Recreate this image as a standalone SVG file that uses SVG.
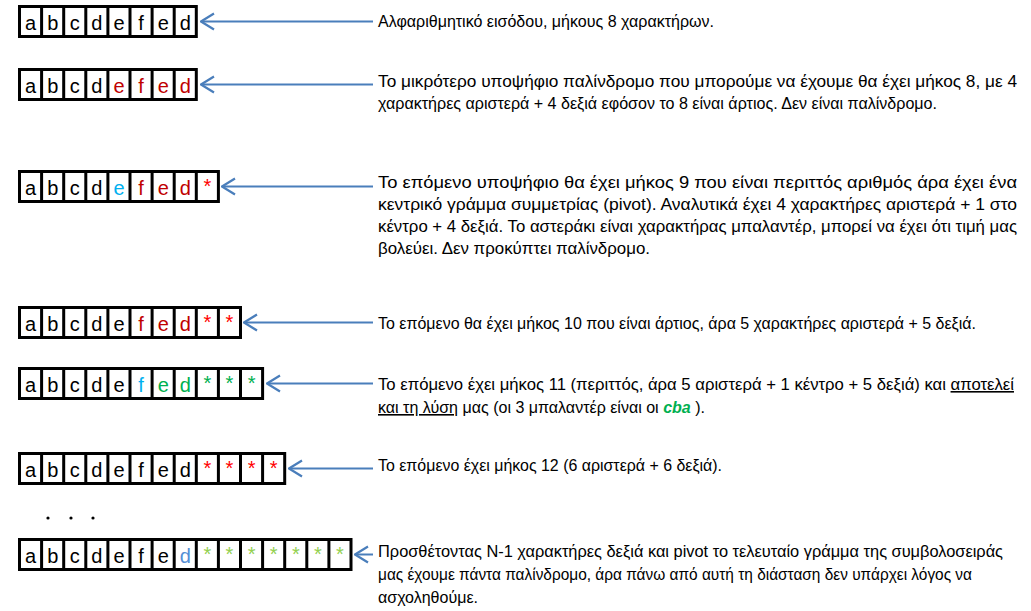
<svg xmlns="http://www.w3.org/2000/svg" width="1031" height="611" viewBox="0 0 1031 611">
<defs>
<marker id="ah" markerUnits="userSpaceOnUse" markerWidth="20" markerHeight="20" refX="19" refY="10" orient="auto" viewBox="0 0 20 20">
<path d="M6,2 L19,10 L6,18" fill="none" stroke="#4A7EBB" stroke-width="2.2"/>
</marker>
</defs>
<style>
.box{fill:#fff;stroke:#000;stroke-width:3}
.sep{stroke:#000;stroke-width:3;fill:none}
.ch{font-family:"Liberation Sans",Arial,sans-serif;font-size:20px;text-anchor:middle;fill:#000}
.k{fill:#000}.r{fill:#C00000}.rr{fill:#FF0000}.b{fill:#00B0F0}.g{fill:#00B050}.lg{fill:#92D050}.cb{fill:#558ED5}
.desc{font-family:"Liberation Sans",Arial,sans-serif;font-size:16px;fill:#000}
.u{text-decoration:underline}
.conn{stroke:#4A7EBB;stroke-width:2;fill:none}
</style>
<rect width="1031" height="611" fill="#fff"/>

<g id="row1">
<rect class="box" x="19.5" y="6.5" width="176.8" height="30"/>
<path class="sep" d="M41.6,5V38M63.7,5V38M85.8,5V38M107.9,5V38M130,5V38M152.1,5V38M174.2,5V38"/>
<g class="ch">
<text x="30.6" y="29.5">a</text><text x="52.7" y="29.5">b</text><text x="74.8" y="29.5">c</text><text x="96.9" y="29.5">d</text><text x="119" y="29.5">e</text><text x="141.1" y="29.5">f</text><text x="163.2" y="29.5">e</text><text x="185.3" y="29.5">d</text>
</g>
</g>

<g id="row2">
<rect class="box" x="19.5" y="69.5" width="176.8" height="30"/>
<path class="sep" d="M41.6,68V101M63.7,68V101M85.8,68V101M107.9,68V101M130,68V101M152.1,68V101M174.2,68V101"/>
<g class="ch">
<text x="30.6" y="92.5">a</text><text x="52.7" y="92.5">b</text><text x="74.8" y="92.5">c</text><text x="96.9" y="92.5">d</text><text class="r" x="119" y="92.5">e</text><text class="r" x="141.1" y="92.5">f</text><text class="r" x="163.2" y="92.5">e</text><text class="r" x="185.3" y="92.5">d</text>
</g>
</g>

<g id="row3">
<rect class="box" x="19.5" y="171.5" width="198.9" height="30"/>
<path class="sep" d="M41.6,170V203M63.7,170V203M85.8,170V203M107.9,170V203M130,170V203M152.1,170V203M174.2,170V203M196.3,170V203"/>
<g class="ch">
<text x="30.6" y="194.5">a</text><text x="52.7" y="194.5">b</text><text x="74.8" y="194.5">c</text><text x="96.9" y="194.5">d</text><text class="b" x="119" y="194.5">e</text><text class="r" x="141.1" y="194.5">f</text><text class="r" x="163.2" y="194.5">e</text><text class="r" x="185.3" y="194.5">d</text><text class="rr" x="207.4" y="192.5">*</text>
</g>
</g>

<g id="row4">
<rect class="box" x="19.5" y="307.5" width="221" height="30"/>
<path class="sep" d="M41.6,306V339M63.7,306V339M85.8,306V339M107.9,306V339M130,306V339M152.1,306V339M174.2,306V339M196.3,306V339M218.4,306V339"/>
<g class="ch">
<text x="30.6" y="330.5">a</text><text x="52.7" y="330.5">b</text><text x="74.8" y="330.5">c</text><text x="96.9" y="330.5">d</text><text x="119" y="330.5">e</text><text class="r" x="141.1" y="330.5">f</text><text class="r" x="163.2" y="330.5">e</text><text class="r" x="185.3" y="330.5">d</text><text class="rr" x="207.4" y="328.5">*</text><text class="rr" x="229.5" y="328.5">*</text>
</g>
</g>

<g id="row5">
<rect class="box" x="19.5" y="368.5" width="243.1" height="30"/>
<path class="sep" d="M41.6,367V400M63.7,367V400M85.8,367V400M107.9,367V400M130,367V400M152.1,367V400M174.2,367V400M196.3,367V400M218.4,367V400M240.5,367V400"/>
<g class="ch">
<text x="30.6" y="391.5">a</text><text x="52.7" y="391.5">b</text><text x="74.8" y="391.5">c</text><text x="96.9" y="391.5">d</text><text x="119" y="391.5">e</text><text class="b" x="141.1" y="391.5">f</text><text class="g" x="163.2" y="391.5">e</text><text class="g" x="185.3" y="391.5">d</text><text class="g" x="207.4" y="389.5">*</text><text class="g" x="229.5" y="389.5">*</text><text class="g" x="251.6" y="389.5">*</text>
</g>
</g>

<g id="row6">
<rect class="box" x="19.5" y="453.5" width="265.2" height="30"/>
<path class="sep" d="M41.6,452V485M63.7,452V485M85.8,452V485M107.9,452V485M130,452V485M152.1,452V485M174.2,452V485M196.3,452V485M218.4,452V485M240.5,452V485M262.6,452V485"/>
<g class="ch">
<text x="30.6" y="476.5">a</text><text x="52.7" y="476.5">b</text><text x="74.8" y="476.5">c</text><text x="96.9" y="476.5">d</text><text x="119" y="476.5">e</text><text x="141.1" y="476.5">f</text><text x="163.2" y="476.5">e</text><text x="185.3" y="476.5">d</text><text class="rr" x="207.4" y="474.5">*</text><text class="rr" x="229.5" y="474.5">*</text><text class="rr" x="251.6" y="474.5">*</text><text class="rr" x="273.7" y="474.5">*</text>
</g>
</g>

<g id="dots" fill="#000">
<circle cx="48" cy="518" r="1.6"/><circle cx="71" cy="518" r="1.6"/><circle cx="93" cy="518" r="1.6"/>
</g>

<g id="row7">
<rect class="box" x="19.5" y="539.5" width="331.5" height="30"/>
<path class="sep" d="M41.6,538V571M63.7,538V571M85.8,538V571M107.9,538V571M130,538V571M152.1,538V571M174.2,538V571M196.3,538V571M218.4,538V571M240.5,538V571M262.6,538V571M284.7,538V571M306.8,538V571M328.9,538V571"/>
<g class="ch">
<text x="30.6" y="562.5">a</text><text x="52.7" y="562.5">b</text><text x="74.8" y="562.5">c</text><text x="96.9" y="562.5">d</text><text x="119" y="562.5">e</text><text x="141.1" y="562.5">f</text><text x="163.2" y="562.5">e</text><text class="cb" x="185.3" y="562.5">d</text><text class="lg" x="207.4" y="560.5">*</text><text class="lg" x="229.5" y="560.5">*</text><text class="lg" x="251.6" y="560.5">*</text><text class="lg" x="273.7" y="560.5">*</text><text class="lg" x="295.8" y="560.5">*</text><text class="lg" x="317.9" y="560.5">*</text><text class="lg" x="340" y="560.5">*</text>
</g>
</g>

<g id="connectors">
<path class="conn" d="M373,21.5H201" marker-end="url(#ah)"/>
<path class="conn" d="M373,84.5H201" marker-end="url(#ah)"/>
<path class="conn" d="M373,186.5H222" marker-end="url(#ah)"/>
<path class="conn" d="M373,322.5H244" marker-end="url(#ah)"/>
<path class="conn" d="M373,383.5H267" marker-end="url(#ah)"/>
<path class="conn" d="M373,468.5H289" marker-end="url(#ah)"/>
<path class="conn" d="M373,554.5H355" marker-end="url(#ah)"/>
</g>

<g id="text1" class="desc">
<text x="378" y="27" textLength="336" lengthAdjust="spacingAndGlyphs">Αλφαριθμητικό εισόδου, μήκους 8 χαρακτήρων.</text>
</g>
<g id="text2" class="desc">
<text x="378" y="87" textLength="639" lengthAdjust="spacingAndGlyphs">Το μικρότερο υποψήφιο παλίνδρομο που μπορούμε να έχουμε θα έχει μήκος 8, με 4</text>
<text x="378" y="109" textLength="559" lengthAdjust="spacingAndGlyphs">χαρακτήρες αριστερά + 4 δεξιά εφόσον το 8 είναι άρτιος. Δεν είναι παλίνδρομο.</text>
</g>
<g id="text3" class="desc">
<text x="378" y="188" textLength="639" lengthAdjust="spacingAndGlyphs">Το επόμενο υποψήφιο θα έχει μήκος 9 που είναι περιττός αριθμός άρα έχει ένα</text>
<text x="378" y="210" textLength="639" lengthAdjust="spacingAndGlyphs">κεντρικό γράμμα συμμετρίας (pivot). Αναλυτικά έχει 4 χαρακτήρες αριστερά + 1 στο</text>
<text x="378" y="232" textLength="639" lengthAdjust="spacingAndGlyphs">κέντρο + 4 δεξιά. Το αστεράκι είναι χαρακτήρας μπαλαντέρ, μπορεί να έχει ότι τιμή μας</text>
<text x="378" y="254" textLength="272" lengthAdjust="spacingAndGlyphs">βολεύει. Δεν προκύπτει παλίνδρομο.</text>
</g>
<g id="text4" class="desc">
<text x="378" y="329" textLength="598" lengthAdjust="spacingAndGlyphs">Το επόμενο θα έχει μήκος 10 που είναι άρτιος, άρα 5 χαρακτήρες αριστερά + 5 δεξιά.</text>
</g>
<g id="text5" class="desc">
<text x="378" y="390" textLength="636" lengthAdjust="spacingAndGlyphs">Το επόμενο έχει μήκος 11 (περιττός, άρα 5 αριστερά + 1 κέντρο + 5 δεξιά) και <tspan class="u">αποτελεί</tspan></text>
<text x="378" y="413" textLength="327" lengthAdjust="spacingAndGlyphs"><tspan class="u">και τη λύση</tspan> μας (οι 3 μπαλαντέρ είναι οι <tspan fill="#00B050" font-weight="bold" font-style="italic">cba</tspan> ).</text>
</g>
<g id="text6" class="desc">
<text x="378" y="471" textLength="344" lengthAdjust="spacingAndGlyphs">Το επόμενο έχει μήκος 12 (6 αριστερά + 6 δεξιά).</text>
</g>
<g id="text7" class="desc">
<text x="378" y="557" textLength="625" lengthAdjust="spacingAndGlyphs">Προσθέτοντας N-1 χαρακτήρες δεξιά και pivot το τελευταίο γράμμα της συμβολοσειράς</text>
<text x="378" y="580" textLength="594" lengthAdjust="spacingAndGlyphs">μας έχουμε πάντα παλίνδρομο, άρα πάνω από αυτή τη διάσταση δεν υπάρχει λόγος να</text>
<text x="378" y="603" textLength="100" lengthAdjust="spacingAndGlyphs">ασχοληθούμε.</text>
</g>
</svg>
